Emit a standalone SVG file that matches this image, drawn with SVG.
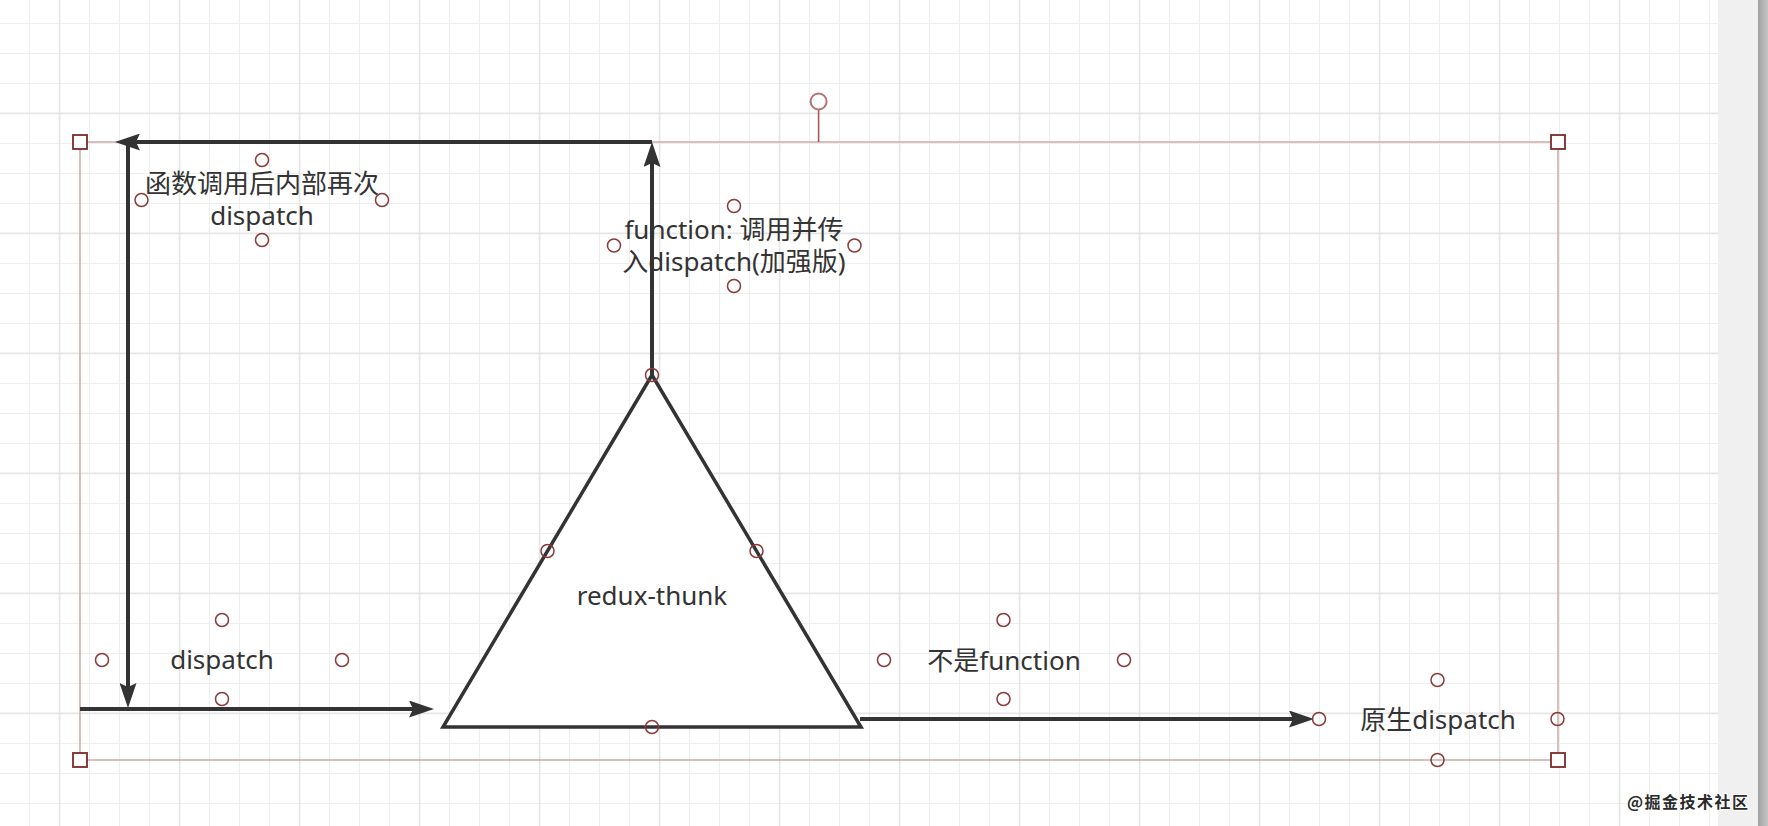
<svg xmlns="http://www.w3.org/2000/svg" width="1768" height="826" viewBox="0 0 1768 826">
  <style>
    .lbl { font-family: "Noto Sans", "Noto Sans CJK SC", sans-serif; font-size: 26px; fill: #333333; text-anchor: middle; }
    .conn { fill: none; stroke: #333333; stroke-width: 4; }
    .pt { fill: none; stroke: #8b3a3a; stroke-width: 1.5; }
    .sq { fill: #ffffff; stroke: #7a2a2a; stroke-width: 1.8; }
    .sel { fill: none; stroke: #cfb0aa; stroke-width: 1.6; }
    .wm { font-family: "Noto Sans CJK SC", "Noto Sans", sans-serif; font-size: 16px; font-weight: bold; fill: #2a2a2a; stroke: #ffffff; stroke-width: 2; paint-order: stroke; letter-spacing: 1.5px; }
  </style>
  <defs>
    <pattern id="minor" patternUnits="userSpaceOnUse" x="29" y="23" width="30" height="30">
      <path d="M0.5,0 V30 M0,0.5 H30" stroke="#eeeeee" stroke-width="1" fill="none"/>
    </pattern>
    <pattern id="major" patternUnits="userSpaceOnUse" x="58.75" y="112.5" width="120" height="120">
      <path d="M0.75,0 V120 M0,0.75 H120" stroke="#e4e4e4" stroke-width="1.5" fill="none"/>
    </pattern>
    <linearGradient id="sb" x1="0" y1="0" x2="1" y2="0">
      <stop offset="0" stop-color="#a2a2a2"/>
      <stop offset="1" stop-color="#c6c6c6"/>
    </linearGradient>
    <marker id="arr" markerUnits="userSpaceOnUse" viewBox="0 0 25 17" refX="10" refY="8.5" markerWidth="25" markerHeight="17" orient="auto">
      <path d="M0,0 L25,8.5 L0,17 L4,8.5 Z" fill="#333333"/>
    </marker>
  </defs>

  <g id="background">
    <rect x="0" y="0" width="1768" height="826" fill="#ffffff"/>
    <rect x="0" y="0" width="1718" height="826" fill="url(#minor)"/>
    <rect x="0" y="0" width="1718" height="826" fill="url(#major)"/>
    <rect x="1718" y="0" width="40" height="826" fill="#f0f0f0"/>
    <rect x="1758" y="0" width="10" height="826" fill="url(#sb)"/>
  </g>

  <g id="selection">
    <rect class="sel" x="80" y="142" width="1478" height="618"/>
    <line x1="818.6" y1="110" x2="818.6" y2="142" stroke="#a85a5a" stroke-width="1.6"/>
    <circle cx="818.6" cy="101.5" r="8" fill="#ffffff" stroke="#b87070" stroke-width="2"/>
  </g>

  <g id="node-redux-thunk">
    <polygon points="652,375 443,727 861,727" fill="#ffffff" stroke="#333333" stroke-width="3.5" stroke-linejoin="miter"/>
    <text class="lbl" x="652" y="605">redux-thunk</text>
  </g>

  <g id="connectors">
    <path class="conn" d="M652,375 L652,157" marker-end="url(#arr)"/>
    <path class="conn" d="M652,142 L130,142" marker-end="url(#arr)"/>
    <path class="conn" d="M128,140 L128,693" marker-end="url(#arr)"/>
    <path class="conn" d="M80,709 L419,709" marker-end="url(#arr)"/>
    <path class="conn" d="M860,719 L1299,719" marker-end="url(#arr)"/>
  </g>

  <g id="label-call-again">
    <text class="lbl" x="262" y="193">函数调用后内部再次<tspan x="262" dy="32">dispatch</tspan></text>
  </g>
  <g id="label-function">
    <text class="lbl" x="734" y="239">function: 调用并传<tspan x="734" dy="32">入dispatch(加强版)</tspan></text>
  </g>
  <g id="label-dispatch">
    <text class="lbl" x="222" y="669">dispatch</text>
  </g>
  <g id="label-not-function">
    <text class="lbl" x="1004" y="670">不是function</text>
  </g>
  <g id="label-native-dispatch">
    <text class="lbl" x="1438" y="729">原生dispatch</text>
  </g>

  <g id="handles">
    <rect class="sq" x="73" y="135" width="14" height="14"/>
    <rect class="sq" x="1551" y="135" width="14" height="14"/>
    <rect class="sq" x="73" y="753" width="14" height="14"/>
    <rect class="sq" x="1551" y="753" width="14" height="14"/>
    <circle class="pt" cx="262" cy="160" r="6.5"/>
    <circle class="pt" cx="141.5" cy="200" r="6.5"/>
    <circle class="pt" cx="382" cy="200" r="6.5"/>
    <circle class="pt" cx="262" cy="240" r="6.5"/>
    <circle class="pt" cx="734" cy="206" r="6.5"/>
    <circle class="pt" cx="614" cy="245.5" r="6.5"/>
    <circle class="pt" cx="854.5" cy="245.5" r="6.5"/>
    <circle class="pt" cx="734" cy="286" r="6.5"/>
    <circle class="pt" cx="222" cy="620" r="6.5"/>
    <circle class="pt" cx="102" cy="660" r="6.5"/>
    <circle class="pt" cx="342" cy="660" r="6.5"/>
    <circle class="pt" cx="222" cy="699" r="6.5"/>
    <circle class="pt" cx="1003.5" cy="620" r="6.5"/>
    <circle class="pt" cx="884" cy="660" r="6.5"/>
    <circle class="pt" cx="1124" cy="660" r="6.5"/>
    <circle class="pt" cx="1003.5" cy="699" r="6.5"/>
    <circle class="pt" cx="1437.5" cy="680" r="6.5"/>
    <circle class="pt" cx="1319" cy="719" r="6.5"/>
    <circle class="pt" cx="1557.5" cy="719" r="6.5"/>
    <circle class="pt" cx="1437.5" cy="760" r="6.5"/>
    <circle class="pt" cx="652" cy="375" r="6.5"/>
    <circle class="pt" cx="547.5" cy="551" r="6.5"/>
    <circle class="pt" cx="756.5" cy="551" r="6.5"/>
    <circle class="pt" cx="652" cy="727" r="6.5"/>
  </g>

  <text class="wm" x="1627" y="808">@掘金技术社区</text>
</svg>
